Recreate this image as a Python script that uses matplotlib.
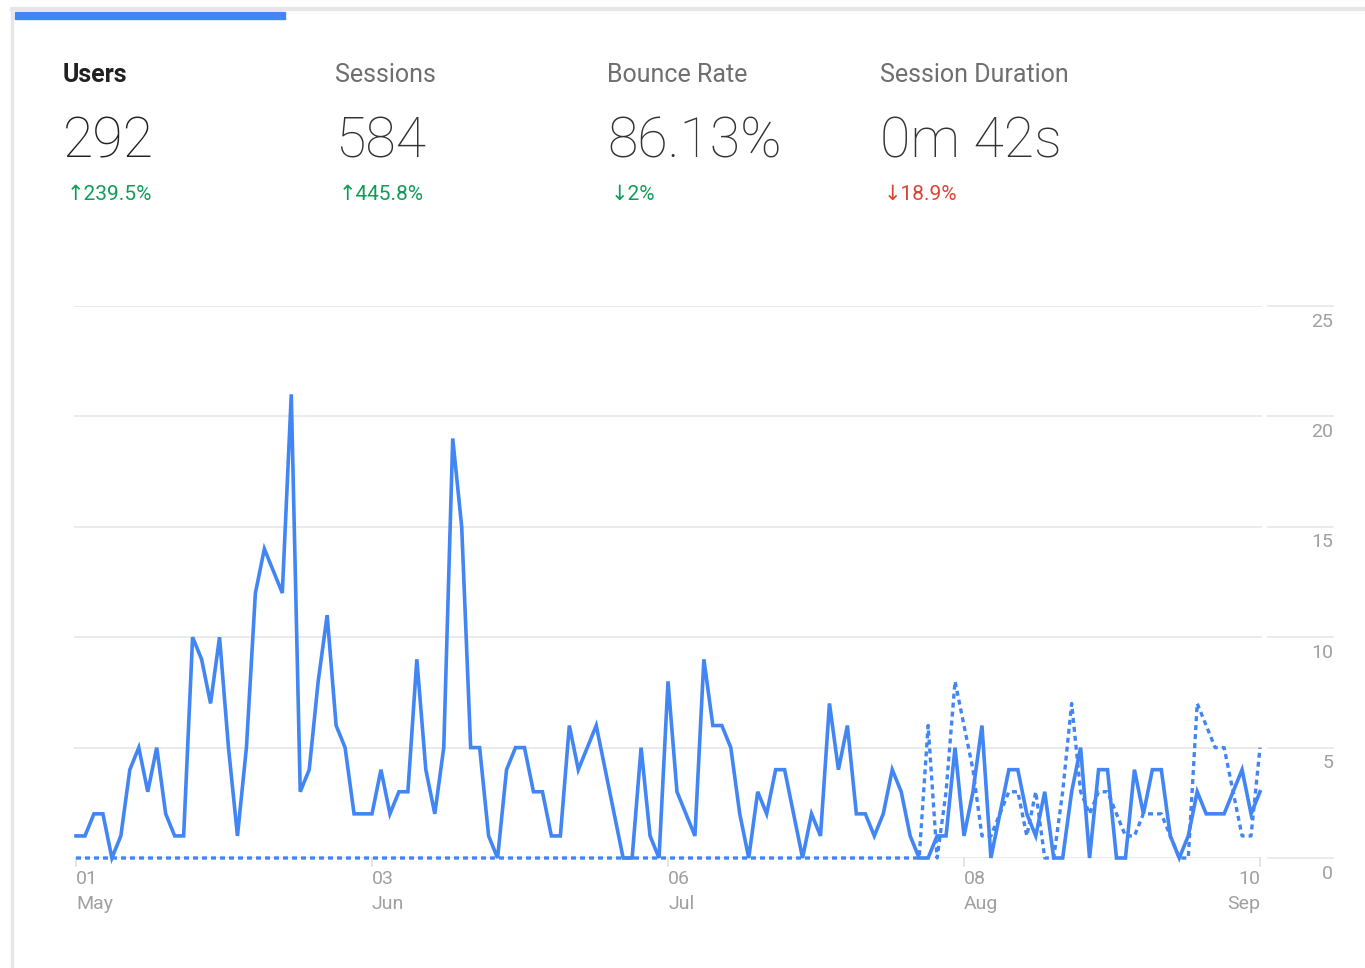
import numpy as np
import matplotlib
matplotlib.use("Agg")
import matplotlib.pyplot as plt
from matplotlib.lines import Line2D
from matplotlib.patches import Rectangle

# daily users, 01 May .. 10 Sep (current period)
users_current = [1, 1, 2, 2, 0, 1, 4, 5, 3, 5, 2, 1, 1, 10, 9, 7, 10, 5, 1, 5,
                 12, 14, 13, 12, 21, 3, 4, 8, 11, 6, 5, 2, 2, 2, 4, 2, 3, 3, 9, 4,
                 2, 5, 19, 15, 5, 5, 1, 0, 4, 5, 5, 3, 3, 1, 1, 6, 4, 5, 6, 4,
                 2, 0, 0, 5, 1, 0, 8, 3, 2, 1, 9, 6, 6, 5, 2, 0, 3, 2, 4, 4,
                 2, 0, 2, 1, 7, 4, 6, 2, 2, 1, 2, 4, 3, 1, 0, 0, 1, 1, 5, 1,
                 3, 6, 0, 2, 4, 4, 2, 1, 3, 0, 0, 3, 5, 0, 4, 4, 0, 0, 4, 2,
                 4, 4, 1, 0, 1, 3, 2, 2, 2, 3, 4, 2, 3]
# previous period (dotted)
users_previous = [0] * 94 + [0, 6, 0, 3, 8, 6, 4, 1, 1, 2, 3, 3, 1, 3, 0, 0, 3, 7,
                             3, 2, 3, 3, 2, 1, 1, 2, 2, 2, 1, 0, 0, 7, 6, 5, 5, 3,
                             1, 1, 5]

tick_days = [0, 33, 66, 99, 132]
tick_labels = ["01\nMay", "03\nJun", "06\nJul", "08\nAug", "10\nSep"]
y_ticks = [0, 5, 10, 15, 20, 25]

metric_names = ["Users", "Sessions", "Bounce Rate", "Session Duration"]
metric_values = ["292", "584", "86.13%", "0m 42s"]
metric_changes = ["\u2191239.5%", "\u2191445.8%", "\u21932%", "\u219318.9%"]
change_good = [True, True, True, False]

BLUE = "#4285f4"
W, H = 1365, 968
FONT = ["Roboto", "DejaVu Sans"]
plt.rcParams["font.family"] = FONT


def px(x, y):
    return x / W, 1 - y / H


fig = plt.figure(figsize=(W / 100, H / 100), dpi=100)
fig.patch.set_facecolor("white")

# card border + selected tab bar
fig.add_artist(Line2D([px(12, 0)[0], 1], [px(0, 9)[1]] * 2, color="#e6e6e6", lw=3))
fig.add_artist(Line2D([px(12, 0)[0]] * 2, [0, px(0, 9)[1]], color="#e6e6e6", lw=2.5))
x0, y0 = px(15, 19)
fig.add_artist(Rectangle((x0, y0), 270 / W, 7 / H, color=BLUE, transform=fig.transFigure))

# metric header
col_x = [63, 335, 607, 880]
for i, name in enumerate(metric_names):
    first = i == 0
    fig.text(*px(col_x[i], 82), name, fontsize=18, color="#212121" if first else "#6f6f6f",
             fontweight="bold" if first else "normal", va="baseline")
    fig.text(*px(col_x[i], 158), metric_values[i], fontsize=40,
             color="#212121" if first else "#333333", fontweight="light", va="baseline")
    fig.text(*px(col_x[i] + 4, 200), metric_changes[i], fontsize=15,
             color="#0f9d58" if change_good[i] else "#db4437", va="baseline",
             family=FONT)

# chart
ax_l, ax_r, ax_t, ax_b = 74, 1262, 306, 858
ax = fig.add_axes([ax_l / W, 1 - ax_b / H, (ax_r - ax_l) / W, (ax_b - ax_t) / H])
days = np.arange(len(users_current))
pad = 2 / 8.97
ax.set_xlim(-pad, days[-1] + pad)
ax.set_ylim(0, 25)
for s in ax.spines.values():
    s.set_visible(False)
ax.set_yticks([])
ax.set_xticks([])

for v in y_ticks:
    ax.axhline(v, color="#e8e8e8", lw=1.2, zorder=0)
    ax.plot([1.005, 1.06], [v, v], color="#e8e8e8", lw=1.2,
            transform=ax.get_yaxis_transform(), clip_on=False)
    ax.text(1.06, v - 0.3, str(v), transform=ax.get_yaxis_transform(), ha="right",
            va="top", fontsize=14, color="#a0a0a0")

for d, lab in zip(tick_days, tick_labels):
    ax.plot([d, d], [0, -0.35], color="#e0e0e0", lw=1.2, clip_on=False)
    ax.text(d, -0.55, lab, ha="right" if d == tick_days[-1] else "left", va="top",
            fontsize=14, color="#a0a0a0", linespacing=1.5)

ax.plot(days, users_previous, color=BLUE, lw=2.4, linestyle=(0, (1.5, 1.2)),
        clip_on=False, zorder=2)
ax.plot(days, users_current, color=BLUE, lw=2.6, clip_on=False, zorder=3,
        solid_joinstyle="miter")

fig.savefig("out.png", dpi=100)
